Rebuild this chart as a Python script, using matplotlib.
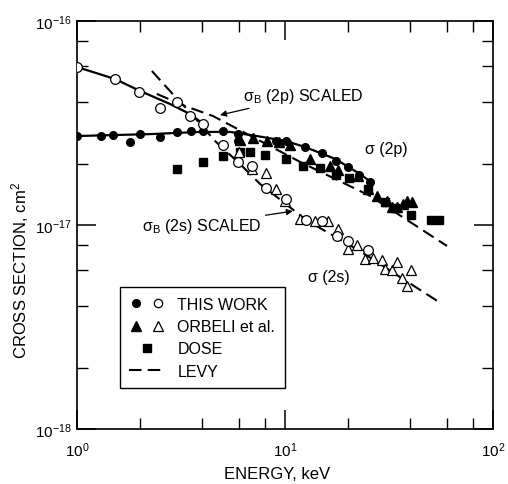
import matplotlib
matplotlib.use("Agg")
import matplotlib.pyplot as plt
from matplotlib.lines import Line2D
from matplotlib.ticker import FixedLocator, NullFormatter
from matplotlib.legend_handler import HandlerTuple

plt.rcParams['font.family'] = ['Liberation Sans', 'DejaVu Sans']
plt.rcParams['mathtext.fontset'] = 'custom'
plt.rcParams['mathtext.rm'] = 'Liberation Sans'
plt.rcParams['mathtext.it'] = 'Liberation Sans:italic'

# energias en keV, secciones eficaces en unidades de 1e-17 cm^2
this_2p_E = [1.00, 1.30, 1.49, 1.80, 2.01, 2.51, 3.03, 3.53, 4.03, 5.03, 5.94, 5.94,
             9.05, 10.1, 12.5, 15.1, 17.6, 20.1, 22.7, 25.6]
this_2p_Q = [2.73, 2.73, 2.76, 2.55, 2.79, 2.70, 2.86, 2.89, 2.89, 2.89, 2.79, 2.58,
             2.58, 2.58, 2.41, 2.25, 2.06, 1.92, 1.76, 1.62]

this_2s_E = [1.00, 1.52, 1.99, 2.51, 3.03, 3.49, 4.03, 5.03, 5.94, 6.94, 8.11, 10.1,
             12.6, 15.1, 17.8, 20.1, 25.1]
this_2s_Q = [5.95, 5.20, 4.49, 3.75, 4.01, 3.42, 3.13, 2.47, 2.04, 1.95, 1.52, 1.34,
             1.06, 1.05, 0.883, 0.835, 0.754]

orbeli_2p_E = [6.08, 7.02, 8.19, 9.36, 10.6, 13.2, 16.5, 18.0, 22.4, 25.1, 27.7, 30.9,
               32.7, 34.5, 36.9, 38.6, 40.8]
orbeli_2p_Q = [2.61, 2.67, 2.58, 2.55, 2.47, 2.11, 1.95, 1.86, 1.74, 1.50, 1.39, 1.31,
               1.23, 1.23, 1.27, 1.31, 1.30]

orbeli_2s_E = [6.01, 6.94, 8.11, 9.05, 10.0, 11.8, 13.9, 16.1, 18.0, 20.1, 22.2, 24.2,
               26.5, 29.3, 30.2, 32.7, 34.5, 36.5, 38.6, 40.4]
orbeli_2s_Q = [2.28, 1.88, 1.80, 1.50, 1.31, 1.07, 1.05, 1.05, 0.955, 0.763, 0.798, 0.681,
               0.689, 0.673, 0.608, 0.601, 0.659, 0.550, 0.502, 0.601]

dose_E = [3.03, 4.03, 5.03, 6.08, 6.79, 8.01, 10.1, 12.2, 14.7, 17.6, 20.3, 25.1,
          30.2, 33.8, 40.4, 50.3, 55.0]
dose_Q = [1.88, 2.04, 2.18, 2.28, 2.28, 2.20, 2.11, 1.95, 1.90, 1.76, 1.70, 1.50,
          1.30, 1.21, 1.12, 1.06, 1.06]

levy_2p_E = [2.42, 3.31, 4.51, 11.8, 25.6, 60.1]
levy_2p_Q = [4.39, 3.83, 3.42, 2.04, 1.39, 0.789]

levy_2s_E = [2.29, 3.03, 3.49, 4.61, 6.08, 7.58, 9.78, 12.6, 16.5, 22.9, 35.7, 56.9]
levy_2s_Q = [5.69, 4.15, 3.58, 2.58, 1.99, 1.59, 1.30, 1.06, 0.904, 0.746, 0.556, 0.410]

ajuste_2p_E = [1.0, 2.24, 3.90, 5.44, 7.33, 10.1, 12.5, 17.4, 22.9, 26.2]
ajuste_2p_Q = [2.73, 2.79, 2.86, 2.86, 2.73, 2.58, 2.41, 2.11, 1.78, 1.61]

ajuste_2s_E = [1.0, 1.52, 2.01, 2.80, 3.49, 4.1]
ajuste_2s_Q = [5.95, 5.20, 4.54, 3.92, 3.50, 3.10]

x_mayores = [1, 10, 100]
x_menores = [2, 4, 6, 8, 20, 40, 60, 80]
y_mayores = [1e-18, 1e-17, 1e-16]
y_menores = [2e-18, 4e-18, 6e-18, 8e-18, 2e-17, 4e-17, 6e-17, 8e-17]

escala = 1e-17


def cm2(lista):
    return [q * escala for q in lista]


fig = plt.figure(figsize=(5.08, 4.85), dpi=100)
ax = fig.add_axes([0.1516, 0.1134, 0.8189, 0.8412])

guiones = (0, (6, 3))
ax.plot(ajuste_2p_E, cm2(ajuste_2p_Q), color='k', lw=1.6, zorder=2)
ax.plot(ajuste_2s_E, cm2(ajuste_2s_Q), color='k', lw=1.6, zorder=2)
ax.plot(levy_2p_E, cm2(levy_2p_Q), color='k', lw=1.5, ls=guiones, zorder=2)
ax.plot(levy_2s_E, cm2(levy_2s_Q), color='k', lw=1.5, ls=guiones, zorder=2)

ax.plot(dose_E, cm2(dose_Q), 's', ms=5.5, color='k', ls='none', zorder=3)
ax.plot(orbeli_2p_E, cm2(orbeli_2p_Q), '^', ms=6.5, color='k', ls='none', zorder=3)
ax.plot(this_2p_E, cm2(this_2p_Q), 'o', ms=5.5, color='k', ls='none', zorder=4)
ax.plot(orbeli_2s_E, cm2(orbeli_2s_Q), '^', ms=7.5, mfc='white', mec='k', mew=0.9,
        ls='none', zorder=3)
ax.plot(this_2s_E, cm2(this_2s_Q), 'o', ms=7, mfc='white', mec='k', mew=0.9,
        ls='none', zorder=4)

ax.set_xscale('log')
ax.set_yscale('log')
ax.set_xlim(1, 100)
ax.set_ylim(1e-18, 1e-16)
ax.xaxis.set_major_locator(FixedLocator(x_mayores))
ax.xaxis.set_minor_locator(FixedLocator(x_menores))
ax.yaxis.set_major_locator(FixedLocator(y_mayores))
ax.yaxis.set_minor_locator(FixedLocator(y_menores))
ax.set_xticklabels(['$10^{0}$', '$10^{1}$', '$10^{2}$'])
ax.set_yticklabels(['$10^{-18}$', '$10^{-17}$', '$10^{-16}$'])
ax.xaxis.set_minor_formatter(NullFormatter())
ax.yaxis.set_minor_formatter(NullFormatter())
ax.tick_params(which='both', direction='in', top=True, right=True, labelsize=11)
ax.tick_params(which='major', length=14, width=1.1)
ax.tick_params(which='minor', length=8, width=1.0)
ax.tick_params(axis='x', pad=8)
ax.tick_params(axis='y', pad=4)
for s in ax.spines.values():
    s.set_linewidth(1.2)

ax.annotate('σ$_\\mathrm{B}$ (2p) SCALED', xy=(4.87, 3.46e-17), xytext=(6.3, 4.3e-17),
            ha='left', va='center', fontsize=11.5,
            arrowprops=dict(arrowstyle='-|>', color='k', lw=0.9, shrinkA=1, shrinkB=0,
                            mutation_scale=9))
ax.annotate('σ$_\\mathrm{B}$ (2s) SCALED', xy=(10.9, 1.17e-17), xytext=(7.7, 1.0e-17),
            ha='right', va='center', fontsize=11.5,
            arrowprops=dict(arrowstyle='-|>', color='k', lw=0.9, shrinkA=1, shrinkB=0,
                            mutation_scale=9))
ax.text(24.2, 2.36e-17, 'σ (2p)', ha='left', va='center', fontsize=11.5)
ax.text(12.9, 5.6e-18, 'σ (2s)', ha='left', va='center', fontsize=11.5)

lleno = Line2D([], [], marker='o', color='k', ls='none', ms=5.5)
hueco = Line2D([], [], marker='o', mfc='white', mec='k', mew=0.9, ls='none', ms=6)
tri_lleno = Line2D([], [], marker='^', color='k', ls='none', ms=6.5)
tri_hueco = Line2D([], [], marker='^', mfc='white', mec='k', mew=0.9, ls='none', ms=7)
cuadro = Line2D([], [], marker='s', color='k', ls='none', ms=5.5)
raya = Line2D([], [], color='k', lw=1.5, ls=guiones)
leg = ax.legend([(lleno, hueco), (tri_lleno, tri_hueco), cuadro, raya],
                ['THIS WORK', 'ORBELI et al.', 'DOSE', 'LEVY'],
                handler_map={tuple: HandlerTuple(ndivide=None, pad=0.5)},
                loc='lower left', bbox_to_anchor=(0.103, 0.100), borderaxespad=0,
                frameon=True, fancybox=False, edgecolor='k', framealpha=1,
                fontsize=11.5, handlelength=2.2, handletextpad=0.8, labelspacing=0.45,
                borderpad=0.6)
leg.get_frame().set_linewidth(1.0)

fig.text(20 / 508, 1 - 270 / 485, 'CROSS SECTION, cm$^2$', rotation=90,
         ha='center', va='center', fontsize=12)
fig.text(277 / 508, 1 - 475 / 485, 'ENERGY, keV', ha='center', va='center', fontsize=12)

fig.savefig('out.png', dpi=100)
